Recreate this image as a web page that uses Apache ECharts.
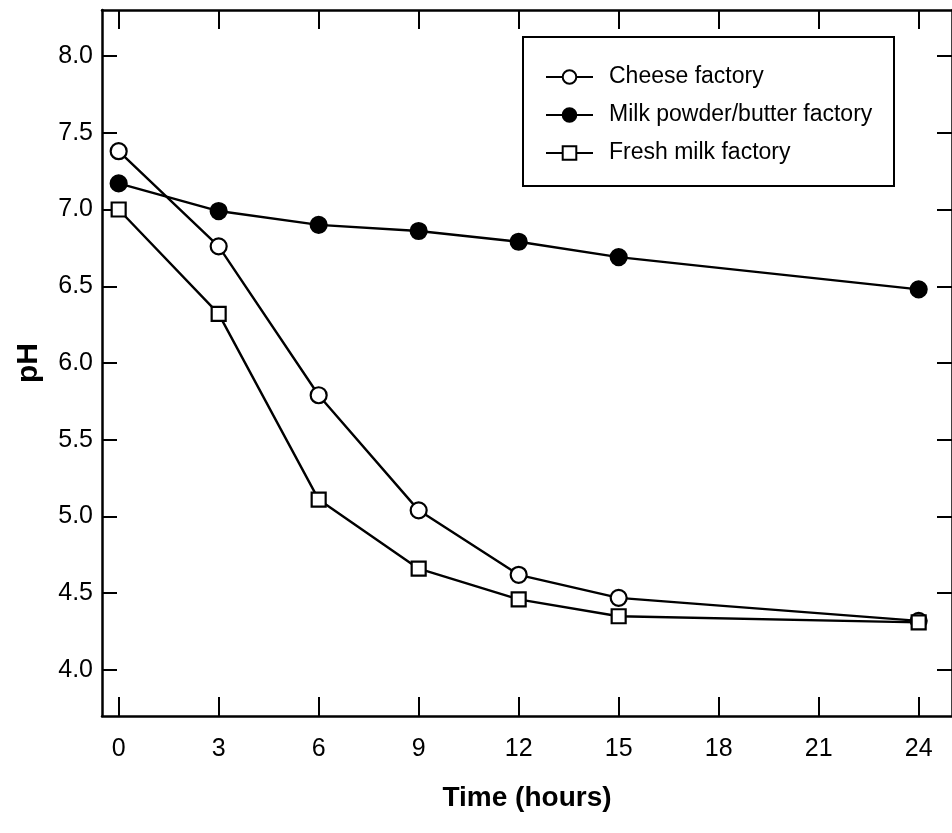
<!DOCTYPE html>
<html>
<head>
<meta charset="utf-8">
<script src="https://cdn.jsdelivr.net/npm/echarts@6/dist/echarts.min.js"></script>
<style>
  html, body { margin: 0; padding: 0; background: #fff; }
  #chart { width: 952px; height: 833px; }
</style>
</head>
<body>
<div id="chart"></div>
<script>
// Sampling times (hours)
const hours = [0, 3, 6, 9, 12, 15, 24];
// pH readings per factory effluent
const cheeseFactory = [7.38, 6.76, 5.79, 5.04, 4.62, 4.47, 4.32];
const milkPowderButterFactory = [7.17, 6.99, 6.90, 6.86, 6.79, 6.69, 6.48];
const freshMilkFactory = [7.00, 6.32, 5.11, 4.66, 4.46, 4.35, 4.31];
// Axis tick positions
const xTicks = [0, 3, 6, 9, 12, 15, 18, 21, 24];
const yTicks = [4.0, 4.5, 5.0, 5.5, 6.0, 6.5, 7.0, 7.5, 8.0];

const seriesNames = ['Cheese factory', 'Milk powder/butter factory', 'Fresh milk factory'];

const pairs = vals => hours.map((h, i) => [h, vals[i]]);

const chart = echarts.init(document.getElementById('chart'), null, { renderer: 'canvas' });

const font = 'Liberation Sans, Arial, Helvetica, sans-serif';
const axisLine = { show: true, onZero: false, lineStyle: { color: '#000', width: 2.5 } };

const lineSeries = (name, vals, symbol, fill) => ({
  name,
  type: 'line',
  data: pairs(vals),
  symbol,
  symbolSize: symbol === 'rect' ? 14 : 16,
  showSymbol: true,
  lineStyle: { color: '#000', width: 2.4 },
  itemStyle: { color: fill, borderColor: '#000', borderWidth: 2.2 },
  emphasis: { disabled: true },
  animation: false,
  z: 3
});

chart.setOption({
  backgroundColor: '#fff',
  animation: false,
  grid: { left: 102, top: 10, width: 851, height: 706, containLabel: false },
  xAxis: [
    {
      type: 'value', position: 'bottom', min: -0.5, max: 25,
      axisLine,
      splitLine: { show: false },
      axisTick: { show: true, inside: true, length: 19, customValues: xTicks, lineStyle: { color: '#000', width: 2 } },
      axisLabel: { customValues: xTicks, margin: 21, fontSize: 25, color: '#000', fontFamily: font },
      name: 'Time (hours)', nameLocation: 'middle', nameGap: 68,
      nameTextStyle: { fontSize: 28, fontWeight: 'bold', color: '#000', fontFamily: font }
    },
    {
      type: 'value', position: 'top', min: -0.5, max: 25,
      axisLine,
      splitLine: { show: false },
      axisTick: { show: true, inside: true, length: 19, customValues: xTicks, lineStyle: { color: '#000', width: 2 } },
      axisLabel: { show: false }
    }
  ],
  yAxis: [
    {
      type: 'value', position: 'left', min: 3.7, max: 8.3,
      axisLine,
      splitLine: { show: false },
      axisTick: { show: true, inside: true, length: 15, customValues: yTicks, lineStyle: { color: '#000', width: 2 } },
      axisLabel: { customValues: yTicks, margin: 9, fontSize: 25, color: '#000', fontFamily: font,
        formatter: v => v.toFixed(1) },
      name: 'pH', nameLocation: 'middle', nameGap: 58, nameRotate: 90,
      nameTextStyle: { fontSize: 30, fontWeight: 'bold', color: '#000', fontFamily: font }
    },
    {
      type: 'value', position: 'right', min: 3.7, max: 8.3,
      axisLine,
      splitLine: { show: false },
      axisTick: { show: true, inside: true, length: 15, customValues: yTicks, lineStyle: { color: '#000', width: 2 } },
      axisLabel: { show: false }
    }
  ],
  legend: {
    orient: 'vertical',
    left: 545,
    top: 63,
    padding: 0,
    itemWidth: 47,
    itemHeight: 17,
    itemGap: 10,
    selectedMode: false,
    data: seriesNames,
    textStyle: {
      fontSize: 23, lineHeight: 28, color: '#000', fontFamily: font,
      padding: [0, 0, 0, 11]
    }
  },
  graphic: [
    {
      type: 'rect',
      shape: { x: 523, y: 37, width: 371, height: 149 },
      style: { fill: 'none', stroke: '#000', lineWidth: 2 },
      z: 10
    }
  ],
  series: [
    lineSeries(seriesNames[0], cheeseFactory, 'circle', '#fff'),
    lineSeries(seriesNames[1], milkPowderButterFactory, 'circle', '#000'),
    lineSeries(seriesNames[2], freshMilkFactory, 'rect', '#fff')
  ]
});
</script>
</body>
</html>
